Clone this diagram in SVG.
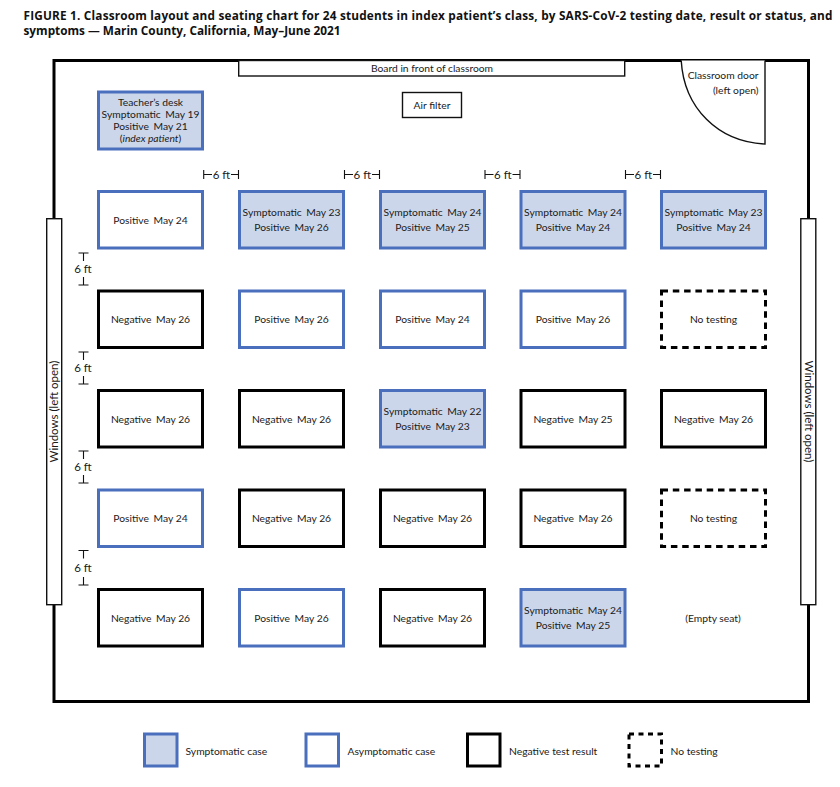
<svg xmlns="http://www.w3.org/2000/svg" width="840" height="787" viewBox="0 0 840 787">
<style>
text{font-family:"Lato","Open Sans","Liberation Sans",sans-serif;font-size:10.3px;fill:#1a1a1a;text-anchor:middle}
.title{font-family:"Open Sans","Liberation Sans",sans-serif;font-weight:700;font-size:11.8px;fill:#111;text-anchor:start}
.big{font-size:11.5px}
.l{text-anchor:start}
.seat{stroke-width:3}
.sym{fill:#cbd6ea;stroke:#4a6fbd}
.pos{fill:#fff;stroke:#4a6fbd}
.neg{fill:#fff;stroke:#000}
.no{fill:#fff;stroke:#000;stroke-dasharray:6.5 4.8}
.thin{fill:#fff;stroke:#111;stroke-width:1.4}
.tick{fill:none;stroke:#111;stroke-width:1.1}
</style>
<rect width="840" height="787" fill="#fff"/>
<text class="title" x="23.5" y="20" textLength="809" lengthAdjust="spacing">FIGURE 1. Classroom layout and seating chart for 24 students in index patient’s class, by SARS-CoV-2 testing date, result or status, and</text>
<text class="title" x="23.5" y="35" textLength="317" lengthAdjust="spacing">symptoms — Marin County, California, May–June 2021</text>

<g id="room"><rect x="54" y="60.5" width="754.5" height="641" fill="#fff" stroke="#000" stroke-width="3"/></g>
<g id="board"><rect class="thin" x="238.7" y="60.5" width="386" height="15.5"/><text x="432" y="72">Board in front of classroom</text></g>
<g id="door"><path d="M681.2 60.5C684 108 718 142 765 144V60.5" fill="#fff" stroke="#111" stroke-width="1.4"/><text x="758.5" y="79" style="text-anchor:end">Classroom door</text><text x="758.5" y="94" style="text-anchor:end">(left open)</text></g>
<g id="air-filter"><rect class="thin" x="402.5" y="92.5" width="59" height="25"/><text x="432" y="109">Air filter</text></g>
<g id="window-left"><rect class="thin" x="46.7" y="218.7" width="15" height="386"/><text class="big" transform="translate(58 411.500) rotate(-90)">Windows (left open)</text></g>
<g id="window-right"><rect class="thin" x="800.8" y="218.7" width="15" height="386"/><text class="big" transform="translate(804.500 411.500) rotate(90)">Windows (left open)</text></g>

<g id="teacher-desk"><rect class="seat sym" x="98.500" y="92" width="104" height="57"/><text x="150.500" y="106">Teacher’s desk</text><text x="150.500" y="118">Symptomatic <tspan dx="2">May 19</tspan></text><text x="150.500" y="130">Positive <tspan dx="2">May 21</tspan></text><text x="150.500" y="142">(<tspan font-style="italic">index patient</tspan>)</text></g>

<g id="seat-1-1"><rect class="seat pos" x="98.500" y="191.500" width="104" height="56.500"/><text x="150.500" y="224">Positive <tspan dx="2">May 24</tspan></text></g>
<g id="seat-1-2"><rect class="seat sym" x="239.500" y="191.500" width="104" height="56.500"/><text x="291.500" y="216">Symptomatic <tspan dx="2">May 23</tspan></text><text x="291.500" y="231">Positive <tspan dx="2">May 26</tspan></text></g>
<g id="seat-1-3"><rect class="seat sym" x="380.500" y="191.500" width="104" height="56.500"/><text x="432.500" y="216">Symptomatic <tspan dx="2">May 24</tspan></text><text x="432.500" y="231">Positive <tspan dx="2">May 25</tspan></text></g>
<g id="seat-1-4"><rect class="seat sym" x="521" y="191.500" width="104" height="56.500"/><text x="573" y="216">Symptomatic <tspan dx="2">May 24</tspan></text><text x="573" y="231">Positive <tspan dx="2">May 24</tspan></text></g>
<g id="seat-1-5"><rect class="seat sym" x="661.500" y="191.500" width="104" height="56.500"/><text x="713.500" y="216">Symptomatic <tspan dx="2">May 23</tspan></text><text x="713.500" y="231">Positive <tspan dx="2">May 24</tspan></text></g>

<g id="seat-2-1"><rect class="seat neg" x="98.500" y="291" width="104" height="56.500"/><text x="150.500" y="323">Negative <tspan dx="2">May 26</tspan></text></g>
<g id="seat-2-2"><rect class="seat pos" x="239.500" y="291" width="104" height="56.500"/><text x="291.500" y="323">Positive <tspan dx="2">May 26</tspan></text></g>
<g id="seat-2-3"><rect class="seat pos" x="380.500" y="291" width="104" height="56.500"/><text x="432.500" y="323">Positive <tspan dx="2">May 24</tspan></text></g>
<g id="seat-2-4"><rect class="seat pos" x="521" y="291" width="104" height="56.500"/><text x="573" y="323">Positive <tspan dx="2">May 26</tspan></text></g>
<g id="seat-2-5"><rect class="seat no" x="661.500" y="291" width="104" height="56.500"/><text x="713.500" y="323">No testing</text></g>

<g id="seat-3-1"><rect class="seat neg" x="98.500" y="390.500" width="104" height="56.500"/><text x="150.500" y="423">Negative <tspan dx="2">May 26</tspan></text></g>
<g id="seat-3-2"><rect class="seat neg" x="239.500" y="390.500" width="104" height="56.500"/><text x="291.500" y="423">Negative <tspan dx="2">May 26</tspan></text></g>
<g id="seat-3-3"><rect class="seat sym" x="380.500" y="390.500" width="104" height="56.500"/><text x="432.500" y="415">Symptomatic <tspan dx="2">May 22</tspan></text><text x="432.500" y="430">Positive <tspan dx="2">May 23</tspan></text></g>
<g id="seat-3-4"><rect class="seat neg" x="521" y="390.500" width="104" height="56.500"/><text x="573" y="423">Negative <tspan dx="2">May 25</tspan></text></g>
<g id="seat-3-5"><rect class="seat neg" x="661.500" y="390.500" width="104" height="56.500"/><text x="713.500" y="423">Negative <tspan dx="2">May 26</tspan></text></g>

<g id="seat-4-1"><rect class="seat pos" x="98.500" y="490" width="104" height="56.500"/><text x="150.500" y="522">Positive <tspan dx="2">May 24</tspan></text></g>
<g id="seat-4-2"><rect class="seat neg" x="239.500" y="490" width="104" height="56.500"/><text x="291.500" y="522">Negative <tspan dx="2">May 26</tspan></text></g>
<g id="seat-4-3"><rect class="seat neg" x="380.500" y="490" width="104" height="56.500"/><text x="432.500" y="522">Negative <tspan dx="2">May 26</tspan></text></g>
<g id="seat-4-4"><rect class="seat neg" x="521" y="490" width="104" height="56.500"/><text x="573" y="522">Negative <tspan dx="2">May 26</tspan></text></g>
<g id="seat-4-5"><rect class="seat no" x="661.500" y="490" width="104" height="56.500"/><text x="713.500" y="522">No testing</text></g>

<g id="seat-5-1"><rect class="seat neg" x="98.500" y="589.500" width="104" height="56.500"/><text x="150.500" y="622">Negative <tspan dx="2">May 26</tspan></text></g>
<g id="seat-5-2"><rect class="seat pos" x="239.500" y="589.500" width="104" height="56.500"/><text x="291.500" y="622">Positive <tspan dx="2">May 26</tspan></text></g>
<g id="seat-5-3"><rect class="seat neg" x="380.500" y="589.500" width="104" height="56.500"/><text x="432.500" y="622">Negative <tspan dx="2">May 26</tspan></text></g>
<g id="seat-5-4"><rect class="seat sym" x="521" y="589.500" width="104" height="56.500"/><text x="573" y="614">Symptomatic <tspan dx="2">May 24</tspan></text><text x="573" y="629">Positive <tspan dx="2">May 25</tspan></text></g>
<g id="seat-5-5"><text x="713" y="622">(Empty seat)</text></g>

<g id="connectors">
<path class="tick" d="M203.700 170V179M203.700 174.500H212M231 174.500H238.500M238.500 170V179"/>
<path class="tick" d="M344.500 170V179M344.500 174.500H353M372 174.500H379.500M379.500 170V179"/>
<path class="tick" d="M485 170V179M485 174.500H493.500M512.500 174.500H520M520 170V179"/>
<path class="tick" d="M625.500 170V179M625.500 174.500H634M653 174.500H660.500M660.500 170V179"/>
<path class="tick" d="M78.500 253H88.500M83.500 253V261M83.500 277V285M78.500 285H88.500"/>
<path class="tick" d="M78.500 352H88.500M83.500 352V360M83.500 376V384M78.500 384H88.500"/>
<path class="tick" d="M78.500 451H88.500M83.500 451V459M83.500 475V483M78.500 483H88.500"/>
<path class="tick" d="M78.500 550.500H88.500M83.500 550.500V558.500M83.500 577V585M78.500 585H88.500"/>
</g>
<g id="gap-labels">
<text class="big" x="221.500" y="178.500">6 ft</text><text class="big" x="362.300" y="178.500">6 ft</text><text class="big" x="502.800" y="178.500">6 ft</text><text class="big" x="643.300" y="178.500">6 ft</text>
<text class="big" x="83" y="273">6 ft</text><text class="big" x="83" y="372">6 ft</text><text class="big" x="83" y="471">6 ft</text><text class="big" x="83" y="572">6 ft</text>
</g>

<g id="legend-symptomatic"><rect class="seat sym" x="144.500" y="734" width="32.500" height="32"/><text class="l" x="185.500" y="755">Symptomatic case</text></g>
<g id="legend-asymptomatic"><rect class="seat pos" x="306" y="734" width="32.500" height="32"/><text class="l" x="347.500" y="755">Asymptomatic case</text></g>
<g id="legend-negative"><rect class="seat neg" x="467.500" y="734" width="32.500" height="32"/><text class="l" x="509" y="755">Negative test result</text></g>
<g id="legend-no-testing"><rect class="seat no" x="629" y="734" width="32.500" height="32" style="stroke-dasharray:5 4.500"/><text class="l" x="670.500" y="755">No testing</text></g>
</svg>
